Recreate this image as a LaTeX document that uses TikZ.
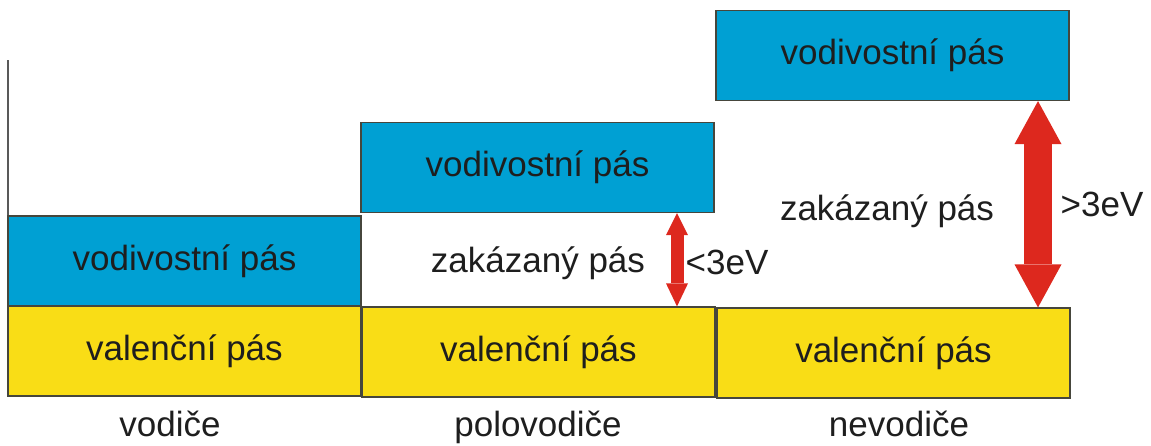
\documentclass[tikz,border=0pt]{standalone}
\usepackage{fontspec}
\setmainfont{Liberation Sans}
\usetikzlibrary{arrows.meta}

\definecolor{modra}{RGB}{0,160,211}
\definecolor{zluta}{RGB}{249,221,22}
\definecolor{cervena}{RGB}{221,40,30}
\definecolor{okraj}{RGB}{70,70,60}
\definecolor{pismo}{RGB}{30,30,30}

\tikzset{
    pas/.style={draw=okraj, line width=1.2pt, minimum width=353pt, minimum height=90pt,
        inner sep=0pt, text=pismo, font=\fontsize{35}{40}\selectfont},
    popis/.style={text=pismo, anchor=base, inner sep=0pt, font=\fontsize{35}{40}\selectfont},
    sipka/.style={cervena, line width=#1},
    sipka/.default=13pt
}

\begin{document}
\begin{tikzpicture}[x=1pt, y=-1pt]
        \useasboundingbox (0,0) rectangle (1151,445);

        % Pásy: valenční (x, y), vodivostní (y), popis pod sloupcem (x)
        \foreach \i/\xv/\yv/\xc/\yc/\xp/\nazev in {
            1/184.5/351/184.5/261/170/vodiče,
            2/538.5/352/537.5/167.5/538/polovodiče,
            3/893.5/353/892.5/55.5/899/nevodiče}
        {
            \node[pas, fill=zluta] (val\i) at (\xv,\yv) {valenční pás};
            \node[pas, fill=modra] (vod\i) at (\xc,\yc) {vodivostní pás};

            % Název skupiny látek
            \node[popis] (typ\i) at (\xp,436) {\nazev};
        }

        % Svislá osa energie
        \coordinate (osa) at (8,60);
        \draw[gray!70!black, line width=1.8pt] (osa) -- (osa |- vod1.north);

        % Zakázaný pás polovodiče
        \coordinate (s2) at (677,0);
        \draw[sipka, {Triangle[width=22pt,length=22pt,line width=0pt]}-{Triangle[width=22pt,length=23pt,line width=0pt]}]
            (vod2.south -| s2) -- (val2.north -| s2);
        \node[popis] (zak2) at (538,272) {zakázaný pás};
        \node[popis] (mez2) at (727,274) {<3eV};

        % Zakázaný pás nevodiče
        \coordinate (s3) at (1038,0);
        \draw[sipka=28pt, {Triangle[width=47pt,length=43pt,line width=0pt]}-{Triangle[width=47pt,length=43pt,line width=0pt]}]
            (vod3.south -| s3) -- (val3.north -| s3);
        \node[popis] (zak3) at (887,220) {zakázaný pás};
        \node[popis] (mez3) at (1102,216) {>3eV};
\end{tikzpicture}
\end{document}
